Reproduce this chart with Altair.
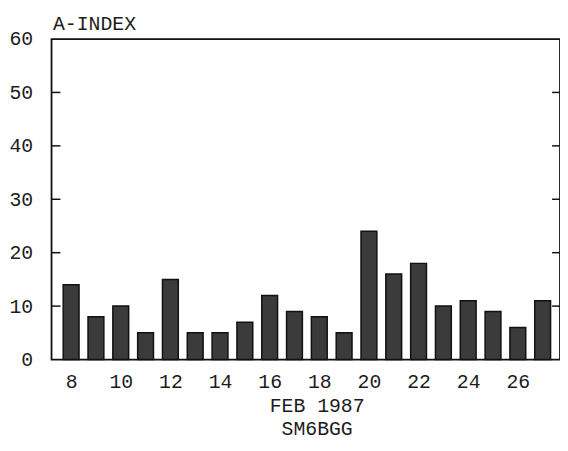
import altair as alt
import pandas as pd

days = list(range(8, 28))
a_index = [14, 8, 10, 5, 15, 5, 5, 7, 12, 9, 8, 5, 24, 16, 18, 10, 11, 9, 6, 11]
x_tick_labels = [8, 10, 12, 14, 16, 18, 20, 22, 24, 26]
y_ticks = [0, 10, 20, 30, 40, 50, 60]
inner_ticks = [10, 20, 30, 40, 50]

W, H = 514, 324
FONT = "Liberation Mono"
INK = "#1c1c1c"

df = pd.DataFrame({"day": days, "a": a_index})
ticks_df = pd.DataFrame({"v": inner_ticks})

x_scale = alt.Scale(domain=[7.41, 27.5], nice=False, zero=False)
y_scale = alt.Scale(domain=[0, 60], nice=False)

bars = alt.Chart(df).mark_bar(
    size=16, color="#3b3b3b", stroke="#111111", strokeWidth=1.5
).encode(
    x=alt.X("day:Q", scale=x_scale,
            axis=alt.Axis(values=x_tick_labels, tickSize=0, domain=False, grid=False,
                          labelFont=FONT, labelFontSize=20, labelColor=INK,
                          labelPadding=12, labelFlush=False,
                          title=["FEB 1987", "SM6BGG"], titleFont=FONT,
                          titleFontSize=20, titleFontWeight="normal", titleColor=INK,
                          titleX=268, titleAlign="center", titlePadding=5,
                          titleLineHeight=23)),
    y=alt.Y("a:Q", scale=y_scale,
            axis=alt.Axis(values=y_ticks, tickSize=0, domain=False, grid=False,
                          labelFont=FONT, labelFontSize=20, labelColor=INK,
                          labelPadding=19, labelFlush=False,
                          title="A-INDEX", titleFont=FONT, titleFontSize=20,
                          titleFontWeight="normal", titleColor=INK,
                          titleAngle=0, titleAlign="left", titleBaseline="alphabetic",
                          titleX=1, titleY=-10)),
)

left_ticks = alt.Chart(ticks_df).mark_rule(color="#111111", strokeWidth=1.5).encode(
    y=alt.Y("v:Q", scale=y_scale),
    x=alt.value(0), x2=alt.value(9),
)
right_ticks = alt.Chart(ticks_df).mark_rule(color="#111111", strokeWidth=1.5).encode(
    y=alt.Y("v:Q", scale=y_scale),
    x=alt.value(W - 8), x2=alt.value(W),
)

chart = alt.layer(bars, left_ticks, right_ticks).properties(
    width=W, height=H,
    autosize=alt.AutoSizeParams(type="none"),
    padding={"left": 44, "top": 29, "right": 0, "bottom": 80},
    background="white",
).configure_view(stroke="#111111", strokeWidth=1.8)

chart.save("out.html", embed_options={"renderer": "svg", "actions": False})
